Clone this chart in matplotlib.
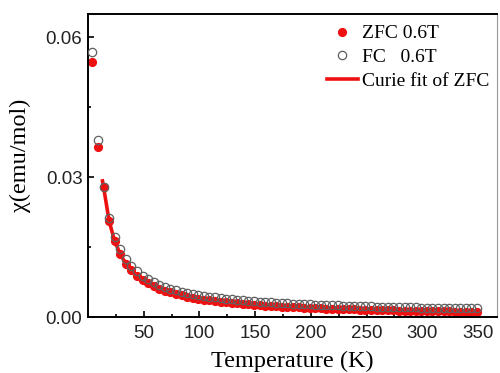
import matplotlib
matplotlib.use("Agg")
import matplotlib.pyplot as plt
from matplotlib.ticker import MultipleLocator, FixedLocator

# ---- data ----
temperature = [4, 9, 14, 19, 24, 29, 34, 39, 44, 49, 54, 59, 64, 69, 74, 79, 84, 89, 94, 99,
               104, 109, 114, 119, 124, 129, 134, 139, 144, 149, 154, 159, 164, 169, 174, 179,
               184, 189, 194, 199, 204, 209, 214, 219, 224, 229, 234, 239, 244, 249, 254, 259,
               264, 269, 274, 279, 284, 289, 294, 299, 304, 309, 314, 319, 324, 329, 334, 339,
               344, 349]

chi_zfc = [0.0547, 0.0365, 0.02786, 0.02053, 0.01625, 0.01345, 0.01147, 0.01000, 0.00886, 0.00796,
           0.00722, 0.00661, 0.00609, 0.00565, 0.00527, 0.00494, 0.00464, 0.00438, 0.00415, 0.00394,
           0.00375, 0.00358, 0.00342, 0.00328, 0.00315, 0.00302, 0.00291, 0.00281, 0.00271, 0.00262,
           0.00253, 0.00245, 0.00238, 0.00231, 0.00224, 0.00218, 0.00212, 0.00206, 0.00201, 0.00196,
           0.00191, 0.00187, 0.00182, 0.00178, 0.00174, 0.00170, 0.00167, 0.00163, 0.00160, 0.00157,
           0.00154, 0.00151, 0.00148, 0.00145, 0.00142, 0.00140, 0.00137, 0.00135, 0.00133, 0.00130,
           0.00128, 0.00126, 0.00124, 0.00122, 0.00120, 0.00119, 0.00117, 0.00115, 0.00113, 0.00112]

chi_fc = [0.0568, 0.0379, 0.0280, 0.0212, 0.0172, 0.01449, 0.01246, 0.01096, 0.00979, 0.00886,
          0.00811, 0.00748, 0.00695, 0.00650, 0.00611, 0.00576, 0.00546, 0.00519, 0.00496, 0.00474,
          0.00455, 0.00437, 0.00421, 0.00406, 0.00393, 0.00380, 0.00369, 0.00358, 0.00348, 0.00338,
          0.00330, 0.00322, 0.00314, 0.00307, 0.00300, 0.00293, 0.00287, 0.00282, 0.00276, 0.00271,
          0.00266, 0.00261, 0.00257, 0.00253, 0.00249, 0.00245, 0.00241, 0.00237, 0.00234, 0.00231,
          0.00227, 0.00224, 0.00222, 0.00219, 0.00216, 0.00213, 0.00211, 0.00208, 0.00206, 0.00204,
          0.00202, 0.00199, 0.00197, 0.00195, 0.00193, 0.00192, 0.00190, 0.00188, 0.00186, 0.00185]

fit_temperature = [13, 14, 19, 24, 29, 34, 39, 44, 49, 59, 69, 79, 89, 99, 119, 139, 159, 179,
                   199, 224, 249, 274, 299, 324, 349]
fit_chi = [0.0292, 0.02786, 0.02053, 0.01625, 0.01345, 0.01147, 0.01000, 0.00886, 0.00796,
           0.00661, 0.00565, 0.00494, 0.00438, 0.00394, 0.00328, 0.00281, 0.00245, 0.00218,
           0.00196, 0.00174, 0.00157, 0.00142, 0.00130, 0.00120, 0.00112]

x_ticks = [50, 100, 150, 200, 250, 300, 350]
y_ticks = [0.00, 0.03, 0.06]
y_tick_labels = ["0.00", "0.03", "0.06"]

serif = ["Liberation Serif", "DejaVu Serif"]
sans = ["Liberation Sans", "DejaVu Sans"]

fig = plt.figure(figsize=(5.0, 3.73), dpi=100)
ax = fig.add_axes([0.176, 0.150, 0.818, 0.8125])

ax.plot(temperature, chi_zfc, linestyle="none", marker="o", markersize=5.6,
        markerfacecolor="#ee1111", markeredgecolor="#ee1111", label="ZFC 0.6T", zorder=2)
ax.plot(fit_temperature, fit_chi, color="#ee1111", linewidth=2.6,
        label="Curie fit of ZFC", zorder=3)
ax.plot(temperature, chi_fc, linestyle="none", marker="o", markersize=6.0,
        markerfacecolor="none", markeredgecolor="#606060", markeredgewidth=0.9,
        label="FC   0.6T", zorder=4)

ax.set_xlim(0, 367)
ax.set_ylim(0, 0.065)

ax.xaxis.set_major_locator(FixedLocator(x_ticks))
ax.xaxis.set_minor_locator(MultipleLocator(25))
ax.yaxis.set_major_locator(FixedLocator(y_ticks))
ax.set_yticklabels(y_tick_labels)
ax.yaxis.set_minor_locator(FixedLocator([0.015, 0.045]))

ax.tick_params(which="both", direction="in", top=False, right=False, labelsize=13.5,
               width=1.2, colors="black")
ax.tick_params(which="major", length=4.5)
ax.tick_params(which="minor", length=2.5)
ax.tick_params(axis="x", pad=6)
ax.tick_params(axis="y", pad=4)
for lab in ax.get_xticklabels() + ax.get_yticklabels():
    lab.set_fontfamily(sans)
    lab.set_color("#222222")

for side in ["left", "bottom", "top"]:
    ax.spines[side].set_linewidth(1.4)
    ax.spines[side].set_color("black")
ax.spines["right"].set_linewidth(0.8)
ax.spines["right"].set_color("#999999")

ax.set_xlabel("Temperature (K)", fontsize=17.5, fontfamily=serif, labelpad=6)
ax.set_ylabel("χ(emu/mol)", fontsize=17.5, fontfamily=serif)
ax.yaxis.set_label_coords(-0.14, 0.533)

handles, labels = ax.get_legend_handles_labels()
order = [0, 2, 1]
leg = ax.legend([handles[i] for i in order], [labels[i] for i in order],
                loc="upper right", bbox_to_anchor=(1.0, 0.99), frameon=False,
                prop={"family": serif, "size": 14},
                handlelength=1.6, handletextpad=0.2, labelspacing=0.32,
                borderaxespad=0.2, borderpad=0.2)

fig.savefig("out.png", dpi=100)
